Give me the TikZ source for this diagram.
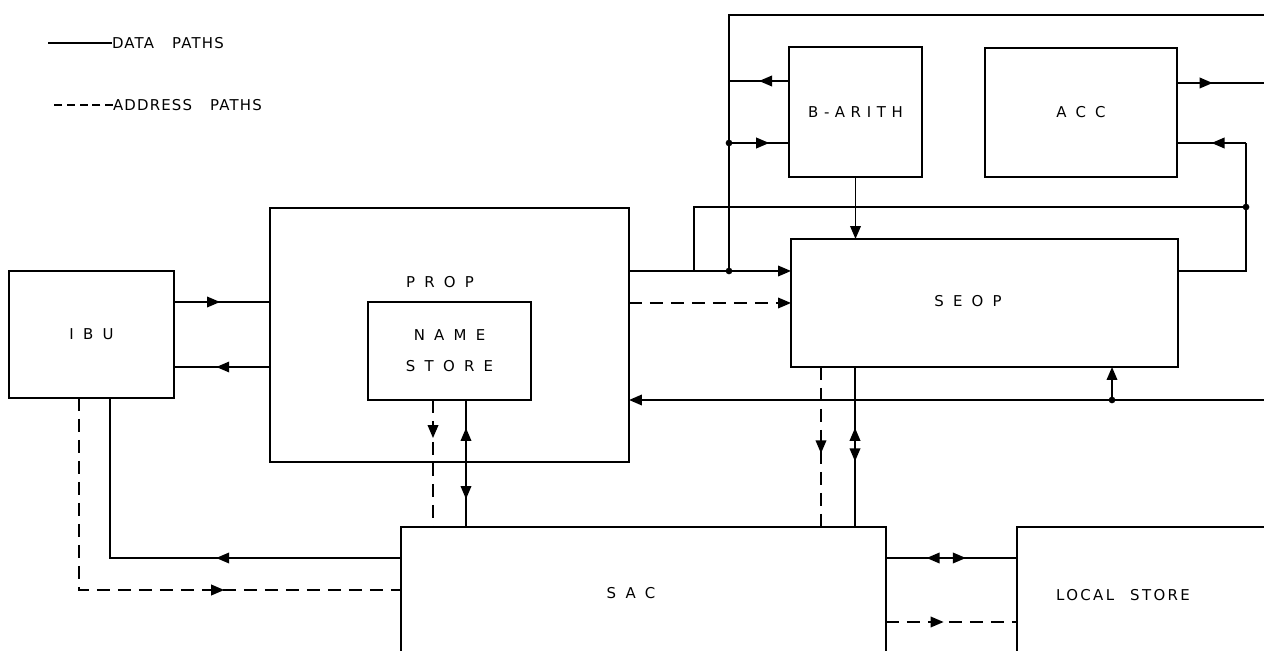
\documentclass[tikz,border=0pt]{standalone}
\usepackage{fontspec}
\setmainfont{DejaVu Sans}
\newfontfamily\lblfont[LetterSpace=62]{DejaVu Sans}
\newfontfamily\legfont[LetterSpace=8]{DejaVu Sans}
\usetikzlibrary{arrows.meta,decorations.markings}

\begin{document}
\begin{tikzpicture}[
  x=0.02cm, y=-0.02cm,
  >={Triangle[length=2.6mm,width=2.1mm]},
  every node/.style={inner sep=0pt, outer sep=0pt, font=\lblfont\fontsize{8.5}{17.5}\selectfont},
  block/.style={draw, line width=1.1pt, rectangle, align=center},
  wire/.style={line width=1.1pt},
  addr/.style={wire, dash pattern=on 2.6mm off 1.6mm},
  legtext/.style={anchor=west, font=\legfont\fontsize{8.5}{10}\selectfont},
  tipat/.style={postaction={decorate, decoration={markings, mark=at position #1 with {\arrow{>}}}}},
  tipbk/.style={postaction={decorate, decoration={markings, mark=at position #1 with {\arrowreversed{>}}}}}
]
\useasboundingbox (0,0) rectangle (1264,651);
\clip (0,0) rectangle (1264,651);

% rows and columns of the wiring
\coordinate (topy) at (0,15);
\coordinate (boy) at (0,81);
\coordinate (aoy) at (0,83);
\coordinate (biy) at (0,143);
\coordinate (midy) at (0,207);
\coordinate (busy) at (0,271);
\coordinate (iny) at (0,302);
\coordinate (ady) at (0,303);
\coordinate (outy) at (0,367);
\coordinate (fby) at (0,400);
\coordinate (sdy) at (0,558);
\coordinate (say) at (0,590);
\coordinate (lady) at (0,622);
\coordinate (ibud) at (79,0);
\coordinate (ibus) at (110,0);
\coordinate (nsd) at (433,0);
\coordinate (nss) at (466,0);
\coordinate (busl) at (694,0);
\coordinate (busv) at (729,0);
\coordinate (seopd) at (821,0);
\coordinate (seops) at (855,0);
\coordinate (fbx) at (1112,0);
\coordinate (accx) at (1246,0);
\coordinate (edge) at (1264,0);

% legend
\node[legtext] (ldata) at (112,43) {DATA\hspace{3.6mm}PATHS};
\draw[wire] (ldata.west) -- ++(-64,0);
\node[legtext] (laddr) at (113,105) {ADDRESS\hspace{3.6mm}PATHS};
\draw[wire, dash pattern=on 1.6mm off 0.95mm] (laddr.west) -- ++(-60,0);

% blocks
\node[block, minimum width=3.30cm, minimum height=2.54cm] (ibu) at (91.5,334.5) {IBU};
\node[block, minimum width=7.18cm, minimum height=5.08cm] (prop) at (449.5,335) {};
\node (proplbl) at (440,282) {PROP};
\node[block, minimum width=3.26cm, minimum height=1.96cm] (name) at (449.5,351) {NAME\\STORE};
\node[block, minimum width=2.66cm, minimum height=2.60cm, font=\lblfont\fontsize{8.5}{10}\selectfont\addfontfeature{LetterSpace=38}] (barith) at (855.5,112) {B-ARITH};
\node[block, minimum width=3.84cm, minimum height=2.58cm] (acc) at (1081,112.5) {ACC};
\node[block, minimum width=7.74cm, minimum height=2.56cm] (seop) at (984.5,303) {};
\node (seoplbl) at (968,301) {SEOP};
\node[block, minimum width=9.70cm, minimum height=3.86cm] (sac) at (643.5,623.5) {};
\node (saclbl) at (631,593) {SAC};
\node[block, minimum width=6.12cm, minimum height=3.86cm] (local) at (1170,623.5) {};
\node[legtext, anchor=center, font=\lblfont\fontsize{8.5}{10}\selectfont\addfontfeature{LetterSpace=16}] (locallbl) at (1123,595) {LOCAL\hspace{3.2mm}STORE};

% IBU and PROP
\draw[wire, tipat=0.48] (ibu.east |- iny) -- (prop.west |- iny);
\draw[wire, tipat=0.56] (prop.west |- outy) -- (ibu.east |- outy);
\draw[wire, tipat=0.41] (sac.west |- sdy) -| (ibus |- ibu.south);
\draw[addr, tipat=0.656] (ibud |- ibu.south) |- (sac.west |- say);

% name store to SAC
\draw[addr, tipat=0.3] (nsd |- name.south) -- (nsd |- sac.north);
\draw[wire, tipbk=0.22, tipat=0.78] (nss |- name.south) -- (nss |- sac.north);

% PROP to SEOP, B-ARITH and ACC
\draw[wire, ->] (prop.east |- busy) -- (seop.west |- busy);
\draw[addr, ->] (prop.east |- ady) -- (seop.west |- ady);
\draw[wire] (busl |- busy) -- (busl |- midy) -- (accx |- midy);
\draw[wire] (busv |- busy) -- (busv |- topy) -- (edge |- topy);
\draw[wire, tipat=0.67] (busv |- biy) -- (barith.west |- biy);
\draw[wire, tipat=0.5] (barith.west |- boy) -- (busv |- boy);
\draw[wire, ->] (barith.south) -- (barith.south |- seop.north);
\draw[wire, tipat=0.41] (acc.east |- aoy) -- (edge |- aoy);
\draw[wire] (seop.east |- busy) -| (accx |- biy);
\draw[wire, tipat=0.5] (accx |- biy) -- (acc.east |- biy);
\fill (busv |- busy) circle[radius=1.9pt];
\fill (busv |- biy) circle[radius=1.9pt];
\fill (accx |- midy) circle[radius=1.9pt];

% return path and SEOP to SAC
\draw[wire, ->] (edge |- fby) -- (prop.east |- fby);
\draw[wire, ->] (fbx |- fby) -- (fbx |- seop.south);
\fill (fbx |- fby) circle[radius=1.9pt];
\draw[addr, tipat=0.54] (seopd |- seop.south) -- (seopd |- sac.north);
\draw[wire, tipbk=0.38, tipat=0.59] (seops |- seop.south) -- (seops |- sac.north);

% SAC and local store
\draw[wire, tipbk=0.31, tipat=0.61] (sac.east |- sdy) -- (local.west |- sdy);
\draw[addr, tipat=0.44] (sac.east |- lady) -- (local.west |- lady);

\end{tikzpicture}
\end{document}
